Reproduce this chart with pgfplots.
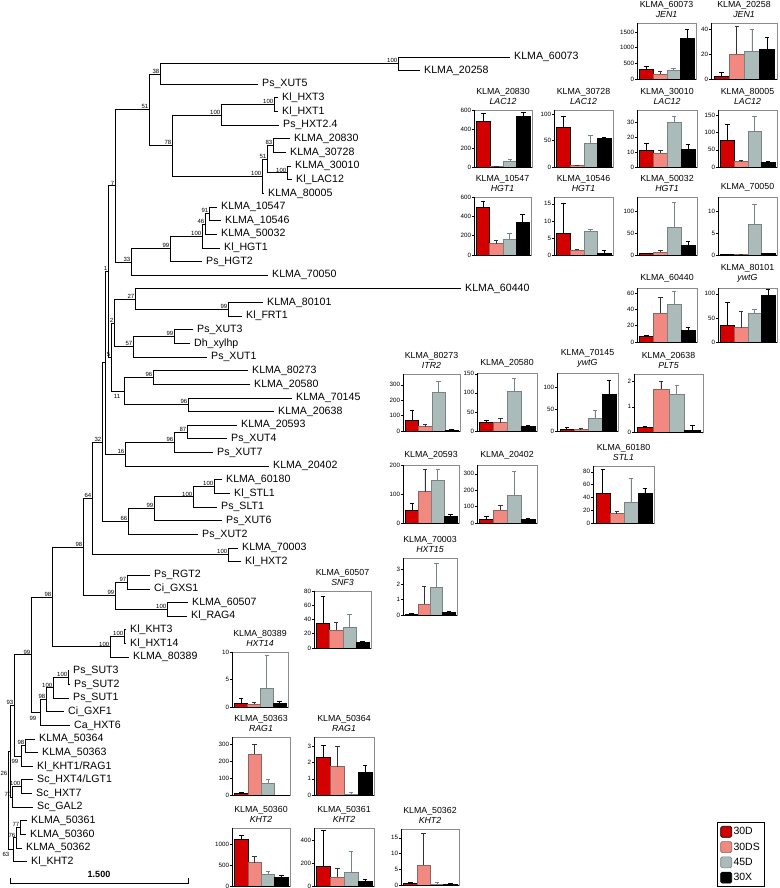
\documentclass[border=0pt]{standalone}
\usepackage{fontspec}
\setmainfont{Liberation Sans}
\usepackage{pgfplots}
\pgfplotsset{compat=1.18}
\definecolor{cD}{RGB}{212,0,0}
\definecolor{cDS}{RGB}{242,137,128}
\definecolor{cDSd}{RGB}{140,100,96}
\definecolor{cE}{RGB}{170,187,185}
\definecolor{cEd}{RGB}{120,132,131}
\definecolor{frame}{RGB}{140,140,140}
\newcommand{\treefont}{\fontsize{10.6}{12}\selectfont}
\newcommand{\titfont}{\fontsize{8.8}{10}\selectfont}
\newcommand{\tickfont}{\fontsize{6.2}{6.5}\selectfont}
\newcommand{\bsfont}{\fontsize{6}{7}\selectfont}
\tikzset{
 leaf/.style={anchor=west, inner sep=0pt, xshift=4pt, font=\treefont},
 bsn/.style={anchor=south east, inner sep=0.6pt, font=\bsfont},
 bsc/.style={anchor=center, inner sep=0pt, font=\bsfont},
}
\pgfplotsset{
 tree/.style={black, line width=0.95pt, mark=none, forget plot},
 bc/.style={anchor=south west, scale only axis, ymin=0, xmin=0.3, xmax=4.65,
   xtick=\empty, ytick pos=left, tick align=outside, major tick length=2pt,
   tick style={black, line width=0.5pt},
   axis line style={draw=frame, line width=0.9pt},
   yticklabel style={font=\tickfont, inner sep=0.8pt},
   /pgf/number format/assume math mode=true, /pgf/number format/1000 sep={},
   title style={font=\titfont, align=center, inner sep=0pt, at={(0.5,1)}, anchor=south, yshift=-0.5pt},
   after end axis/.code={\draw[black, line width=0.9pt] (rel axis cs:0,1) -- (rel axis cs:0,0) -- (rel axis cs:1,0);}},
 bb/.style={ybar, bar width=1, bar shift=0pt, line width=0.6pt,
   error bars/y dir=plus, error bars/y explicit,
   error bars/error bar style={line width=0.7pt, #1},
   error bars/error mark options={rotate=90, mark size=2.2pt, line width=0.7pt, #1}},
}
\newcommand{\bars}[8]{%
 \addplot[bb=black, fill=cD, draw=black] coordinates {(1,#1) +- (0,#2)};
 \addplot[bb=black!80, fill=cDS, draw=cDSd] coordinates {(2,#3) +- (0,#4)};
 \addplot[bb=cEd, fill=cE, draw=cEd] coordinates {(3,#5) +- (0,#6)};
 \addplot[bb=black, fill=black, draw=black] coordinates {(4,#7) +- (0,#8)};
}
\newcommand{\nd}[5]{\addplot[tree] coordinates {(#1,#2) (#3,#2) (#3,#4) (#5,#4)};}
\newcommand{\lf}[3]{\node[leaf] at (axis cs:#1,#2) {#3};}
\newcommand{\bs}[3]{\node[bsn] at (axis cs:#1,#2) {#3};}
\begin{document}
\begin{tikzpicture}
\begin{axis}[at={(0,0)}, anchor=south west, scale only axis, width=779pt, height=888pt,
  xmin=0, xmax=779, ymin=0, ymax=888, y dir=reverse, hide axis, clip=false]
% ---- tree branches
\nd{510}{57}{398}{70.6}{420}
\nd{398}{63.8}{160}{84.3}{258}
\nd{278}{97.9}{274}{111.6}{278}
\nd{274}{104.75}{221}{125.2}{279}
\nd{290}{138.8}{273}{152.5}{286}
\nd{291}{166.1}{287}{179.8}{292}
\nd{273}{145.65}{267}{172.95}{287}
\nd{267}{159.3}{262}{193.4}{264}
\nd{221}{115}{172}{176.35}{262}
\nd{160}{74}{149}{145.7}{172}
\nd{217}{207}{209}{220.7}{221}
\nd{209}{213.85}{205}{234.3}{217}
\nd{205}{224.1}{202}{248}{220}
\nd{202}{236}{170}{261.6}{202}
\nd{170}{248.8}{131}{275.2}{268}
\nd{149}{109.85}{115}{262}{131}
\nd{263}{302.5}{228}{316.2}{242}
\nd{461}{288.9}{135}{309.35}{228}
\nd{193}{329.8}{174}{343.4}{190}
\nd{174}{336.6}{133}{357.1}{207}
\nd{135}{299.1}{114}{346.85}{133}
\nd{248}{370.7}{153}{384.4}{250}
\nd{292}{398}{188}{411.6}{274}
\nd{153}{377.55}{124}{404.8}{188}
\nd{114}{323}{111}{391.2}{124}
\nd{115}{185.9}{108}{357.1}{111}
\nd{237}{425.3}{187}{438.9}{227}
\nd{187}{432.1}{174}{452.6}{213}
\nd{174}{442.35}{125}{466.2}{269}
\nd{108}{271.5}{105}{454.3}{125}
\nd{222}{479.8}{214}{493.5}{230}
\nd{214}{486.65}{193}{507.1}{217}
\nd{193}{496.9}{154}{520.8}{222}
\nd{154}{508.85}{128}{534.4}{198}
\nd{105}{362.9}{102}{521.6}{128}
\nd{238}{548}{228}{561.7}{241}
\nd{102}{442.25}{92}{554.85}{228}
\nd{150}{575.3}{127}{589}{150}
\nd{188}{602.6}{167}{616.2}{187}
\nd{127}{582.15}{115}{609.4}{167}
\nd{92}{498.55}{83}{595.8}{115}
\nd{126}{629.9}{124}{643.5}{126}
\nd{124}{636.7}{110}{657.2}{129}
\nd{83}{547.2}{52}{646.95}{110}
\nd{69}{670.8}{68}{684.4}{70}
\nd{68}{677.6}{53}{698.1}{69}
\nd{53}{687.85}{46}{711.7}{64}
\nd{46}{699.8}{40}{725.4}{70}
\nd{52}{597.1}{31}{712.6}{40}
\nd{35}{739}{25}{752.6}{38}
\nd{25}{745.8}{21}{766.3}{33}
\nd{31}{654.85}{14}{756.05}{21}
\nd{33}{779.9}{21}{793.6}{32}
\nd{21}{786.75}{12}{807.2}{33}
\nd{14}{705.45}{10}{797}{12}
\nd{27}{820.8}{20}{834.5}{26}
\nd{20}{827.65}{16}{848.1}{22}
\nd{16}{837.9}{13}{861.8}{27}
\nd{10}{751.2}{8}{849.85}{13}
% scale bar
\addplot[tree, line width=0.9pt] coordinates {(10,878) (10,883) (188,883) (188,878)};
\node[font=\bfseries\fontsize{9}{10}\selectfont] at (axis cs:99,874) {1.500};
% ---- leaves
\lf{510}{57}{KLMA\_60073}
\lf{420}{70.6}{KLMA\_20258}
\lf{258}{84.3}{Ps\_XUT5}
\lf{278}{97.9}{Kl\_HXT3}
\lf{278}{111.6}{Kl\_HXT1}
\lf{279}{125.2}{Ps\_HXT2.4}
\lf{290}{138.8}{KLMA\_20830}
\lf{286}{152.5}{KLMA\_30728}
\lf{291}{166.1}{KLMA\_30010}
\lf{292}{179.8}{Kl\_LAC12}
\lf{264}{193.4}{KLMA\_80005}
\lf{217}{207}{KLMA\_10547}
\lf{221}{220.7}{KLMA\_10546}
\lf{217}{234.3}{KLMA\_50032}
\lf{220}{248}{Kl\_HGT1}
\lf{202}{261.6}{Ps\_HGT2}
\lf{268}{275.2}{KLMA\_70050}
\lf{461}{288.9}{KLMA\_60440}
\lf{263}{302.5}{KLMA\_80101}
\lf{242}{316.2}{Kl\_FRT1}
\lf{193}{329.8}{Ps\_XUT3}
\lf{190}{343.4}{Dh\_xylhp}
\lf{207}{357.1}{Ps\_XUT1}
\lf{248}{370.7}{KLMA\_80273}
\lf{250}{384.4}{KLMA\_20580}
\lf{292}{398}{KLMA\_70145}
\lf{274}{411.6}{KLMA\_20638}
\lf{237}{425.3}{KLMA\_20593}
\lf{227}{438.9}{Ps\_XUT4}
\lf{213}{452.6}{Ps\_XUT7}
\lf{269}{466.2}{KLMA\_20402}
\lf{222}{479.8}{KLMA\_60180}
\lf{230}{493.5}{Kl\_STL1}
\lf{217}{507.1}{Ps\_SLT1}
\lf{222}{520.8}{Ps\_XUT6}
\lf{198}{534.4}{Ps\_XUT2}
\lf{238}{548}{KLMA\_70003}
\lf{241}{561.7}{Kl\_HXT2}
\lf{150}{575.3}{Ps\_RGT2}
\lf{150}{589}{Ci\_GXS1}
\lf{188}{602.6}{KLMA\_60507}
\lf{187}{616.2}{Kl\_RAG4}
\lf{126}{629.9}{Kl\_KHT3}
\lf{126}{643.5}{Kl\_HXT14}
\lf{129}{657.2}{KLMA\_80389}
\lf{69}{670.8}{Ps\_SUT3}
\lf{70}{684.4}{Ps\_SUT2}
\lf{69}{698.1}{Ps\_SUT1}
\lf{64}{711.7}{Ci\_GXF1}
\lf{70}{725.4}{Ca\_HXT6}
\lf{35}{739}{KLMA\_50364}
\lf{38}{752.6}{KLMA\_50363}
\lf{33}{766.3}{Kl\_KHT1/RAG1}
\lf{33}{779.9}{Sc\_HXT4/LGT1}
\lf{32}{793.6}{Sc\_HXT7}
\lf{33}{807.2}{Sc\_GAL2}
\lf{27}{820.8}{KLMA\_50361}
\lf{26}{834.5}{KLMA\_50360}
\lf{22}{848.1}{KLMA\_50362}
\lf{27}{861.8}{Kl\_KHT2}
% ---- bootstrap values
\bs{398}{63.8}{100}\bs{160}{74}{38}\bs{274}{104.75}{100}\bs{221}{115}{100}
\bs{273}{145.65}{83}\bs{287}{172.95}{100}\bs{267}{159.3}{51}\bs{262}{176.35}{100}
\bs{172}{145.7}{78}\bs{149}{109.85}{51}\bs{209}{213.85}{91}\bs{205}{224.1}{46}
\bs{202}{236}{100}\bs{170}{248.8}{99}\bs{131}{262}{33}\bs{115}{185.9}{7}
\bs{228}{309.35}{99}\bs{135}{299.1}{27}\bs{174}{336.6}{99}\bs{133}{346.85}{57}
\bs{114}{323}{2}\bs{153}{377.55}{96}\bs{188}{404.8}{96}\bs{111}{357.1}{5}
\bs{108}{271.5}{1}\bs{187}{432.1}{87}\bs{174}{442.35}{96}\bs{125}{454.3}{16}
\bs{214}{486.65}{100}\bs{193}{496.9}{100}\bs{154}{508.85}{99}\bs{128}{521.6}{66}
\bs{102}{442.25}{32}\bs{228}{554.85}{100}\bs{92}{498.55}{64}\bs{127}{582.15}{97}
\bs{167}{609.4}{100}\bs{115}{595.8}{99}\bs{83}{547.2}{98}\bs{124}{636.7}{100}
\bs{110}{646.95}{100}\bs{52}{597.1}{98}\bs{68}{677.6}{100}\bs{53}{687.85}{100}
\bs{46}{699.8}{98}\bs{31}{654.85}{99}\bs{25}{745.8}{98}\bs{14}{705.45}{93}
\bs{21}{786.75}{100}\bs{12}{797}{70}\bs{20}{827.65}{77}\bs{16}{837.9}{76}
\node[bsc] at (axis cs:117,396) {11};
\node[bsc] at (axis cs:33,718) {99};
\node[bsc] at (axis cs:15,761) {99};
\node[bsc] at (axis cs:4,773) {26};
\node[bsc] at (axis cs:6,854) {63};
\end{axis}
% ---- bar charts
\begin{axis}[bc, at={(637pt,809pt)}, width=59pt, height=56pt, ymax=1790, ytick={0,500,1000,1500}, title={KLMA\_60073\\\textit{JEN1}}]
\bars{310}{80}{160}{95}{265}{75}{1300}{285}
\end{axis}
\begin{axis}[bc, at={(711pt,809pt)}, width=66pt, height=56pt, ymax=45, ytick={0,20,40}, title={KLMA\_20258\\\textit{JEN1}}]
\bars{2.5}{3}{20}{22}{22}{18}{24}{9.5}
\end{axis}
\begin{axis}[bc, at={(474pt,721pt)}, width=58pt, height=57pt, ymax=600, ytick={0,200,400,600}, title={KLMA\_20830\\\textit{LAC12}}]
\bars{485}{80}{5}{0}{63}{17}{530}{40}
\end{axis}
\begin{axis}[bc, at={(554pt,721pt)}, width=59pt, height=57pt, ymax=108, ytick={0,50,100}, title={KLMA\_30728\\\textit{LAC12}}]
\bars{76}{20}{3}{0.5}{45}{14}{54}{2}
\end{axis}
\begin{axis}[bc, at={(637pt,721pt)}, width=60pt, height=57pt, ymax=38, ytick={0,10,20,30}, title={KLMA\_30010\\\textit{LAC12}}]
\bars{10.8}{5.2}{9.2}{2}{29.5}{4.3}{11.5}{3.4}
\end{axis}
\begin{axis}[bc, at={(718pt,721pt)}, width=59pt, height=57pt, ymax=166, ytick={0,50,100,150}, title={KLMA\_80005\\\textit{LAC12}}]
\bars{77}{48}{17}{1}{103}{44}{15}{2}
\end{axis}
\begin{axis}[bc, at={(474pt,633pt)}, width=57pt, height=58pt, ymax=600, ytick={0,200,400,600}, title={KLMA\_10547\\\textit{HGT1}}]
\bars{495}{60}{116}{31}{165}{56}{337}{81}
\end{axis}
\begin{axis}[bc, at={(554pt,633pt)}, width=59pt, height=58pt, ymax=17, ytick={0,5,10,15}, title={KLMA\_10546\\\textit{HGT1}}]
\bars{6.5}{8.5}{1.5}{0.2}{7}{0.6}{0.6}{0.7}
\end{axis}
\begin{axis}[bc, at={(637pt,633pt)}, width=60pt, height=58pt, ymax=132, ytick={0,50,100}, title={KLMA\_50032\\\textit{HGT1}}]
\bars{3}{1}{6}{4}{62}{58}{22}{9}
\end{axis}
\begin{axis}[bc, at={(718pt,633pt)}, width=59pt, height=58pt, ymax=13.3, ytick={0,5,10}, title={KLMA\_70050}]
\bars{0.1}{0}{0.1}{0}{7.1}{4.4}{0.3}{0.1}
\end{axis}
\begin{axis}[bc, at={(637pt,546pt)}, width=60pt, height=54pt, ymax=66, ytick={0,20,40,60}, title={KLMA\_60440}]
\bars{6.5}{2}{35}{20}{46.5}{15.5}{14}{4.5}
\end{axis}
\begin{axis}[bc, at={(718pt,546pt)}, width=59pt, height=54pt, ymax=112, ytick={0,50,100}, title={KLMA\_80101\\\textit{ywtG}}]
\bars{34}{49}{30}{33}{60}{8}{97}{13}
\end{axis}
\begin{axis}[bc, at={(403pt,457pt)}, width=57pt, height=57pt, ymax=370, ytick={0,100,200,300}, title={KLMA\_80273\\\textit{ITR2}}]
\bars{72}{65}{28}{16}{250}{75}{6}{3}
\end{axis}
\begin{axis}[bc, at={(477pt,457pt)}, width=60pt, height=58pt, ymax=152, ytick={0,50,100,150}, title={KLMA\_20580}]
\bars{24}{4.5}{21.5}{12}{104}{35}{11}{2.5}
\end{axis}
\begin{axis}[bc, at={(557pt,457pt)}, width=61pt, height=58pt, ymax=133, ytick={0,50,100}, title={KLMA\_70145\\\textit{ywtG}}]
\bars{4.6}{3}{3.8}{1.5}{29}{17.5}{85}{32}
\end{axis}
\begin{axis}[bc, at={(634pt,456pt)}, width=69pt, height=58pt, ymax=2.3, ytick={0,1,2}, title={KLMA\_20638\\\textit{PLT5}}]
\bars{0.17}{0.04}{1.7}{0.3}{1.5}{0.36}{0.08}{0.19}
\end{axis}
\begin{axis}[bc, at={(403pt,365pt)}, width=56pt, height=58pt, ymax=200, ytick={0,100,200}, title={KLMA\_20593}]
\bars{44}{25}{108}{77}{148}{37}{23}{6}
\end{axis}
\begin{axis}[bc, at={(477pt,365pt)}, width=60pt, height=58pt, ymax=354, ytick={0,100,200,300}, title={KLMA\_20402}]
\bars{20}{22}{78}{30}{170}{147}{20}{6}
\end{axis}
\begin{axis}[bc, at={(593pt,365pt)}, width=61pt, height=57pt, ymax=89, ytick={0,20,40,60,80}, title={KLMA\_60180\\\textit{STL1}}]
\bars{47}{36}{14.5}{3.4}{32}{38}{46}{8}
\end{axis}
\begin{axis}[bc, at={(403pt,273pt)}, width=54pt, height=57pt, ymax=3.73, ytick={0,1,2,3}, title={KLMA\_70003\\\textit{HXT15}}]
\bars{0.07}{0.04}{0.7}{1.2}{1.78}{1.58}{0.15}{0.1}
\end{axis}
\begin{axis}[bc, at={(314pt,240pt)}, width=57pt, height=57pt, ymax=80, ytick={0,20,40,60,80}, title={KLMA\_60507\\\textit{SNF3}}]
\bars{35}{37}{25}{11}{29.5}{18}{7.8}{1}
\end{axis}
\begin{axis}[bc, at={(232pt,181pt)}, width=56pt, height=55pt, ymax=10, ytick={0,5,10}, title={KLMA\_80389\\\textit{HXT14}}]
\bars{0.6}{0.9}{0.55}{0.3}{3.4}{6}{0.6}{0.45}
\end{axis}
\begin{axis}[bc, at={(232pt,93pt)}, width=58pt, height=58pt, ymax=345, ytick={0,100,200,300}, title={KLMA\_50363\\\textit{RAG1}}]
\bars{10}{6}{243}{57}{68}{27}{0.5}{0}
\end{axis}
\begin{axis}[bc, at={(314pt,93pt)}, width=60pt, height=58pt, ymax=3.57, ytick={0,1,2,3}, title={KLMA\_50364\\\textit{RAG1}}]
\bars{2.3}{0.78}{1.75}{1.22}{0.06}{0.1}{1.4}{0.45}
\end{axis}
\begin{axis}[bc, at={(232pt,2pt)}, width=58pt, height=58pt, ymax=1386, ytick={0,500,1000}, title={KLMA\_50360\\\textit{KHT2}}]
\bars{1120}{90}{555}{145}{290}{65}{215}{45}
\end{axis}
\begin{axis}[bc, at={(314pt,2pt)}, width=60pt, height=58pt, ymax=503, ytick={0,200,400}, title={KLMA\_50361\\\textit{KHT2}}]
\bars{173}{307}{79}{73}{117}{187}{44}{12}
\end{axis}
\begin{axis}[bc, at={(401pt,3pt)}, width=58pt, height=56pt, ymax=17.8, ytick={0,5,10,15}, title={KLMA\_50362\\\textit{KHT2}}]
\bars{0.5}{0.5}{6.4}{10}{0.3}{0.5}{0.3}{0.3}
\end{axis}
% ---- legend
\begin{axis}[hide axis, scale only axis, width=60pt, height=63pt, at={(717pt,1pt)}, anchor=south west,
  xmin=0, xmax=1, ymin=0, ymax=1,
  legend image code/.code={\draw[#1, rounded corners=1.5pt] (0pt,-5.5pt) rectangle (11pt,5.5pt);},
  legend cell align=left,
  legend style={at={(0,0)}, anchor=south west, draw=black, line width=0.8pt, fill=white,
    font=\fontsize{10.5}{12}\selectfont, row sep=3.5pt, inner xsep=3pt, inner ysep=3pt,
    nodes={inner sep=1.5pt}}]
\addlegendimage{fill=cD, draw=black, line width=0.6pt}
\addlegendentry{30D}
\addlegendimage{fill=cDS, draw=cDSd, line width=0.6pt}
\addlegendentry{30DS}
\addlegendimage{fill=cE, draw=cEd, line width=0.6pt}
\addlegendentry{45D}
\addlegendimage{fill=black, draw=black, line width=0.6pt}
\addlegendentry{30X}
\end{axis}
\pgfresetboundingbox
\path[use as bounding box] (0,0) rectangle (779pt,888pt);
\end{tikzpicture}
\end{document}
